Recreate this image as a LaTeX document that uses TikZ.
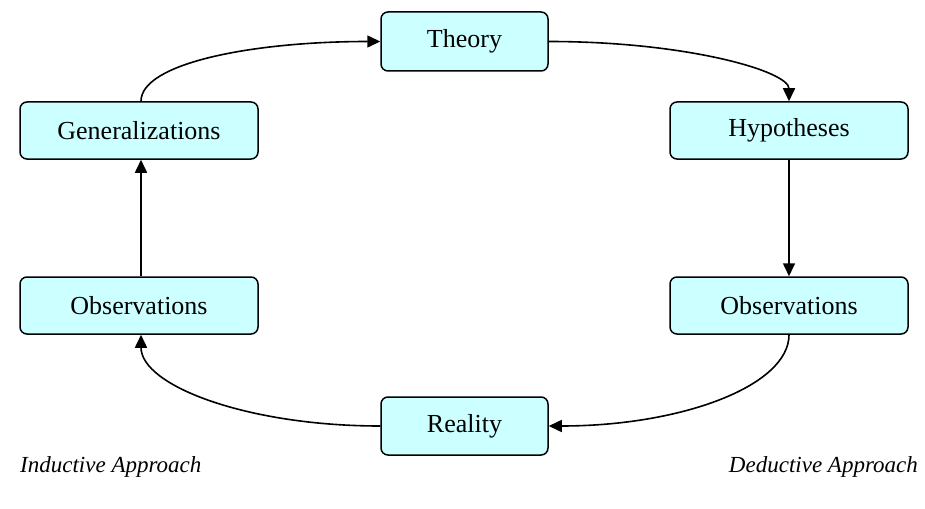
\documentclass[tikz,border=0pt]{standalone}
\usepackage{fontspec}
\setmainfont{Liberation Serif}
\usetikzlibrary{arrows.meta}
\definecolor{boxfill}{HTML}{CCFFFF}
\begin{document}
\begin{tikzpicture}[x=1pt,y=-1pt,
  box/.style={draw=black, line width=1.5pt, fill=boxfill, rounded corners=7pt, font=\fontsize{26}{30}\selectfont, inner sep=0pt, anchor=center},
  conn/.style={line width=1.6pt, -{Triangle[length=13pt,width=12pt]}},
  lab/.style={font=\fontsize{23}{27}\selectfont\itshape, inner sep=0pt}]
\useasboundingbox (0,0) rectangle (925,508);
\node[box, minimum width=167pt, minimum height=59pt] (theory) at (464.5,41.5) {Theory};
\node[box, minimum width=238pt, minimum height=57pt] (gen) at (139,130.5) {Generalizations};
\node[box, minimum width=238pt, minimum height=57pt] (hyp) at (789,130.5) {Hypotheses};
\node[box, minimum width=238pt, minimum height=57pt] (obsl) at (139,305.5) {Observations};
\node[box, minimum width=238pt, minimum height=57pt] (obsr) at (789,305.5) {Observations};
\node[box, minimum width=167pt, minimum height=58pt] (real) at (464.5,426) {Reality};
\node[lab, anchor=west] (ind) at (20,467) {Inductive Approach};
\node[lab, anchor=east] (ded) at (918,467) {Deductive Approach};
\draw[conn] ([xshift=2pt]gen.north) .. controls +(0,-38) and +(-128,0) .. (theory.west);
\draw[conn] (theory.east) .. controls +(138,0) and +(0,-30) .. (hyp.north);
\draw[conn] (hyp.south) -- (obsr.north);
\draw[conn] (obsr.south) .. controls +(0,51) and +(133,0) .. (real.east);
\draw[conn] (real.west) .. controls +(-133,0) and +(0,51) .. ([xshift=2pt]obsl.south);
\draw[conn] ([xshift=2pt]obsl.north) -- ([xshift=2pt]gen.south);
\end{tikzpicture}
\end{document}
